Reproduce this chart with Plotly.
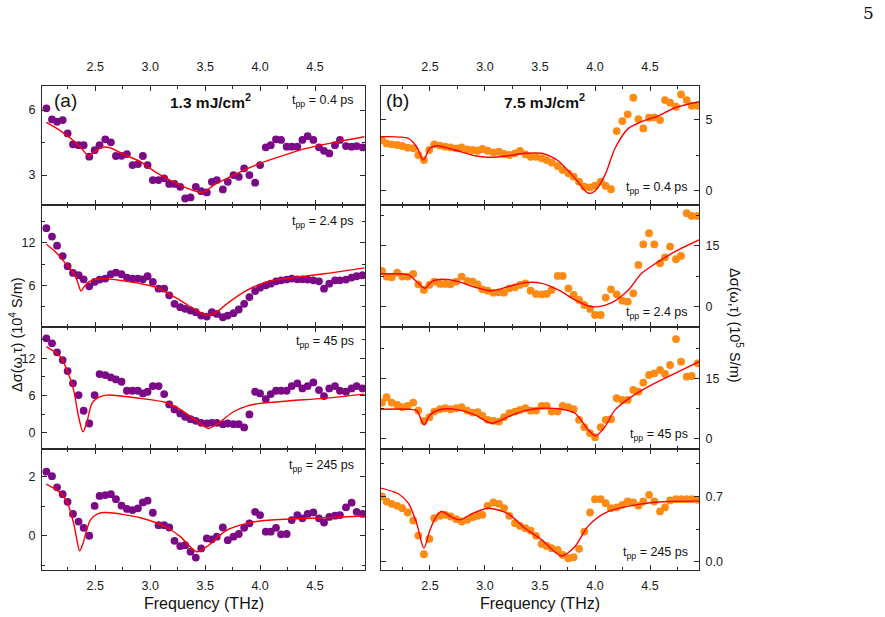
import plotly.graph_objects as go

# ---------------- data ----------------
freq_left = [2.055, 2.106, 2.152, 2.203, 2.248, 2.297, 2.348, 2.394, 2.445, 2.494,
             2.539, 2.591, 2.642, 2.688, 2.739, 2.788, 2.839, 2.888, 2.933, 2.976,
             3.024, 3.076, 3.127, 3.173, 3.221, 3.273, 3.318, 3.367, 3.415, 3.464,
             3.515, 3.561, 3.606, 3.661, 3.706, 3.758, 3.806, 3.855, 3.903, 3.955,
             4.000, 4.052, 4.097, 4.145, 4.191, 4.242, 4.288, 4.339, 4.385, 4.433,
             4.485, 4.536, 4.582, 4.630, 4.682, 4.727, 4.782, 4.833, 4.879, 4.933]
freq_right = [2.064, 2.106, 2.152, 2.203, 2.248, 2.297, 2.348, 2.394, 2.445, 2.494,
              2.539, 2.591, 2.639, 2.688, 2.739, 2.788, 2.839, 2.888, 2.933, 2.976,
              3.024, 3.076, 3.127, 3.173, 3.221, 3.273, 3.318, 3.367, 3.415, 3.464,
              3.515, 3.561, 3.606, 3.661, 3.706, 3.758, 3.806, 3.855, 3.903, 3.955,
              4.000, 4.052, 4.097, 4.145, 4.197, 4.248, 4.297, 4.348, 4.394, 4.439,
              4.491, 4.539, 4.591, 4.636, 4.682, 4.736, 4.782, 4.833, 4.879, 4.933]

# (a) 1.3 mJ/cm2, units 1e4 S/m
a_04 = [6.08, 5.57, 5.46, 5.54, 4.92, 4.42, 4.38, 4.38, 3.85, 4.15,
        4.38, 4.65, 4.51, 3.88, 3.89, 3.97, 3.46, 3.51, 3.88, 3.46,
        2.77, 2.77, 2.85, 2.59, 2.59, 2.46, 1.92, 1.97, 2.46, 2.26,
        2.20, 2.69, 2.77, 2.34, 2.69, 3.00, 2.92, 3.31, 3.00, 2.65,
        3.46, 4.28, 4.38, 4.65, 4.62, 4.31, 4.31, 4.31, 4.62, 4.80,
        4.62, 4.28, 4.12, 4.00, 4.38, 4.62, 4.34, 4.31, 4.34, 4.28]
a_24 = [14.04, 12.86, 11.58, 10.12, 8.70, 7.75, 7.42, 6.85, 5.86, 6.48,
        6.81, 6.95, 7.56, 7.80, 7.56, 7.09, 6.95, 6.95, 6.85, 7.28,
        6.48, 5.53, 5.53, 4.59, 3.40, 2.93, 2.69, 2.46, 2.22, 1.75,
        1.61, 2.22, 1.98, 1.51, 1.75, 2.08, 2.60, 3.40, 4.35, 5.20,
        5.67, 6.00, 6.24, 6.57, 6.71, 6.81, 6.95, 6.85, 6.85, 6.81,
        6.71, 6.57, 5.53, 6.24, 6.71, 6.71, 6.81, 7.09, 7.28, 7.42]
a_45 = [15.22, 14.42, 12.97, 11.73, 9.95, 7.97, 6.08, 3.56, 1.51, 6.08,
        9.47, 9.31, 8.93, 8.61, 8.23, 6.78, 6.78, 6.78, 6.35, 6.62,
        7.53, 7.53, 6.24, 4.58, 3.77, 3.13, 2.59, 2.21, 1.94, 1.62,
        1.51, 1.62, 1.62, 1.40, 1.51, 1.40, 1.40, 0.87, 2.97, 6.62,
        6.35, 5.44, 6.24, 6.78, 6.78, 6.78, 7.53, 7.97, 7.16, 7.53,
        8.13, 6.89, 5.92, 7.16, 7.53, 6.78, 6.62, 7.16, 7.53, 7.16]
a_245 = [2.17, 2.02, 1.64, 1.41, 1.15, 0.74, 0.48, 0.27, 0.00, 1.01,
         1.35, 1.38, 1.41, 1.24, 1.02, 0.91, 0.87, 0.93, 1.13, 1.19,
         0.78, 0.36, 0.36, 0.28, -0.17, -0.35, -0.32, -0.54, -0.74, -0.43,
         -0.09, -0.12, -0.03, 0.28, -0.15, -0.03, 0.06, 0.27, 0.42, 0.81,
         0.70, 0.14, 0.14, 0.27, 0.05, 0.06, 0.53, 0.70, 0.59, 0.74,
         0.79, 0.59, 0.45, 0.64, 0.68, 0.70, 0.96, 1.12, 0.81, 0.74]

# (b) 7.5 mJ/cm2, units 1e5 S/m
b_04 = [3.56, 3.32, 3.26, 3.21, 3.14, 3.02, 2.98, 2.51, 2.16, 2.86,
        3.26, 3.16, 3.09, 3.04, 2.98, 3.04, 2.91, 2.86, 2.81, 2.93,
        2.81, 2.70, 2.74, 2.58, 2.51, 2.63, 2.79, 2.56, 2.39, 2.39,
        2.28, 2.16, 1.98, 1.74, 1.46, 1.23, 1.00, 0.65, 0.30, 0.25,
        0.37, 0.65, 0.35, 0.12, 4.18, 4.88, 5.35, 6.51, 5.02, 4.37,
        5.12, 5.14, 4.95, 6.35, 6.16, 5.88, 6.74, 6.35, 5.95, 5.95]
b_24 = [8.83, 7.43, 7.27, 8.42, 7.43, 7.43, 8.09, 5.54, 4.14, 5.37,
        6.20, 5.62, 5.62, 5.54, 6.20, 7.43, 6.36, 6.20, 5.54, 4.30,
        3.97, 3.48, 3.56, 3.48, 4.55, 4.80, 5.37, 5.78, 3.97, 3.15,
        3.07, 3.15, 4.14, 7.60, 7.60, 4.55, 2.90, 1.67, 0.43, -0.55,
        -2.04, -2.04, 2.25, 4.30, 3.07, 1.50, 1.25, 3.32, 10.31, 15.41,
        18.13, 15.41, 10.72, 12.20, 14.84, 11.71, 12.53, 23.07, 22.41, 22.41]
b_45 = [8.99, 10.31, 8.99, 8.41, 7.84, 8.17, 8.99, 7.01, 4.46, 5.37,
        6.77, 7.34, 7.59, 7.34, 7.59, 7.84, 7.01, 6.52, 6.60, 5.78,
        4.71, 4.46, 4.30, 5.37, 6.35, 6.77, 7.18, 7.59, 7.01, 7.01,
        8.17, 8.17, 6.77, 6.77, 8.17, 7.84, 7.34, 4.71, 2.90, 1.42,
        0.43, 2.90, 4.71, 4.87, 10.06, 9.65, 9.65, 12.12, 11.70, 13.93,
        15.82, 16.23, 17.05, 16.07, 18.29, 24.71, 19.11, 15.41, 15.57, 18.70]
b_245 = [0.700, 0.646, 0.621, 0.600, 0.574, 0.528, 0.442, 0.280, 0.079, 0.244,
         0.467, 0.492, 0.503, 0.485, 0.456, 0.431, 0.449, 0.478, 0.492, 0.503,
         0.600, 0.635, 0.621, 0.574, 0.492, 0.413, 0.384, 0.359, 0.334, 0.277,
         0.190, 0.169, 0.144, 0.126, 0.072, 0.036, 0.047, 0.137, 0.323, 0.528,
         0.671, 0.671, 0.628, 0.574, 0.582, 0.610, 0.646, 0.635, 0.600, 0.646,
         0.718, 0.646, 0.539, 0.582, 0.657, 0.671, 0.671, 0.671, 0.671, 0.664]

# fit curves
fa_04_f = [2.055, 2.18, 2.30, 2.38, 2.44, 2.50, 2.56, 2.64, 2.76, 2.91, 3.06, 3.21, 3.36, 3.48,
           3.58, 3.70, 3.82, 4.00, 4.18, 4.42, 4.67, 4.95]
fa_04_v = [5.43, 5.05, 4.6, 4.2, 3.88, 4.1, 4.28, 4.25, 3.95, 3.62, 3.1, 2.69, 2.35, 2.20,
           2.54, 2.85, 3.15, 3.54, 3.85, 4.23, 4.5, 4.77]
fa_24_f = [2.055, 2.152, 2.242, 2.303, 2.339, 2.370, 2.400, 2.439, 2.500, 2.576, 2.758, 2.909,
           3.061, 3.273, 3.424, 3.515, 3.591, 3.697, 3.879, 4.061, 4.303, 4.606, 4.95]
fa_24_v = [11.77, 10.49, 8.84, 7.75, 6.48, 5.20, 5.86, 6.48, 6.81, 6.95, 6.62, 6.24,
           5.67, 3.88, 2.46, 1.84, 2.08, 3.40, 5.29, 6.48, 7.09, 7.66, 8.46]
fa_45_f = [2.055, 2.182, 2.242, 2.303, 2.348, 2.388, 2.424, 2.470, 2.530, 2.606, 2.909, 3.152,
           3.273, 3.455, 3.530, 3.636, 3.758, 3.879, 4.000, 4.273, 4.576, 4.95]
fa_45_v = [13.88, 12.27, 10.12, 6.89, 2.59, 0.17, 1.78, 4.74, 5.71, 6.08, 5.55, 4.85,
           3.77, 1.51, 0.71, 1.78, 3.40, 4.31, 4.74, 5.17, 5.55, 6.24]
fa_245_f = [2.055, 2.182, 2.242, 2.303, 2.333, 2.358, 2.388, 2.418, 2.455, 2.530, 2.606, 2.909,
            3.152, 3.273, 3.424, 3.515, 3.697, 3.879, 4.000, 4.273, 4.576, 4.95]
fa_245_v = [1.75, 1.46, 1.15, 0.42, -0.15, -0.51, -0.26, 0.14, 0.53, 0.76, 0.79, 0.61,
            0.28, -0.03, -0.54, -0.37, 0.19, 0.42, 0.50, 0.57, 0.61, 0.67]

fb_04_f = [2.055, 2.303, 2.379, 2.439, 2.500, 2.561, 2.758, 2.909, 3.061, 3.212, 3.364, 3.515,
           3.667, 3.818, 3.939, 4.000, 4.091, 4.182, 4.303, 4.424, 4.576, 4.727, 4.945]
fb_04_v = [3.79, 3.67, 3.09, 2.16, 2.98, 3.16, 2.79, 2.46, 2.35, 2.46, 2.63, 2.63,
           2.09, 0.88, -0.16, 0.00, 1.12, 2.98, 4.37, 4.84, 5.25, 5.81, 6.23]
fb_24_f = [2.055, 2.303, 2.379, 2.455, 2.515, 2.606, 2.758, 2.909, 3.061, 3.212, 3.364, 3.515,
           3.667, 3.818, 3.939, 4.030, 4.152, 4.303, 4.424, 4.576, 4.727, 4.945]
fb_24_v = [8.09, 7.84, 6.20, 4.55, 6.20, 6.77, 6.20, 4.80, 3.89, 4.96, 5.95, 5.78,
           4.14, 1.67, 0.19, 0.02, 1.01, 4.14, 8.25, 11.13, 13.60, 16.48]
fb_45_f = [2.055, 2.303, 2.379, 2.448, 2.500, 2.606, 2.758, 2.909, 3.061, 3.212, 3.364, 3.515,
           3.697, 3.818, 3.939, 4.006, 4.091, 4.182, 4.333, 4.485, 4.727, 4.945]
fb_45_v = [7.34, 7.34, 7.01, 3.47, 5.94, 7.34, 7.18, 5.94, 3.89, 5.53, 7.01, 7.59,
           7.34, 6.35, 2.24, 0.76, 3.06, 7.18, 10.47, 12.94, 16.23, 19.11]
fb_245_f = [2.055, 2.212, 2.303, 2.379, 2.445, 2.500, 2.561, 2.606, 2.697, 2.773, 2.879, 3.030,
            3.212, 3.364, 3.515, 3.697, 3.818, 3.939, 4.121, 4.424, 4.667, 4.945]
fb_245_v = [0.790, 0.729, 0.628, 0.413, 0.144, 0.341, 0.492, 0.539, 0.478, 0.449, 0.513, 0.574,
            0.513, 0.359, 0.234, 0.061, 0.162, 0.384, 0.539, 0.621, 0.646, 0.653]

delay_labels = ["0.4", "2.4", "45", "245"]
x_ticks = [2.5, 3.0, 3.5, 4.0, 4.5]

# ---------------- layout helpers ----------------
W, H = 885, 617
def px(x, y):
    return x / W, 1 - y / H

PURPLE = "#7B0A86"
ORANGE = "#FF8A14"
RED = "#FF0000"
FRAME = "#2a2a2a"
FONT = "Liberation Sans, Arial, sans-serif"

col_x = [(42, 365), (381, 699)]
row_y = [(86, 205), (205, 327), (327, 449), (449, 570)]
x_ranges = [[2.015, 4.955], [2.055, 4.945]]

panels = [
    # (col, row, freq, data, fit_f, fit_v, yrange, dtick, minor_dtick, fmt)
    (0, 0, freq_left, a_04, fa_04_f, fa_04_v, [1.62, 7.11], 3, 1.5, None),
    (0, 1, freq_left, a_24, fa_24_f, fa_24_v, [0.14, 17.3], 6, 3, None),
    (0, 2, freq_left, a_45, fa_45_f, fa_45_v, [-2.6, 17.05], 6, 3, None),
    (0, 3, freq_left, a_245, fa_245_f, fa_245_v, [-1.16, 2.94], 2, 1, None),
    (1, 0, freq_right, b_04, fb_04_f, fb_04_v, [-0.98, 7.33], 5, 2.5, None),
    (1, 1, freq_right, b_24, fb_24_f, fb_24_v, [-5.0, 25.1], 15, 7.5, None),
    (1, 2, freq_right, b_45, fb_45_f, fb_45_v, [-2.5, 27.7], 15, 7.5, None),
    (1, 3, freq_right, b_245, fb_245_f, fb_245_v, [-0.09, 1.21], 0.7, 0.35, ".1f"),
]

fig = go.Figure()
layout = dict(
    width=W, height=H, margin=dict(l=0, r=0, t=0, b=0),
    paper_bgcolor="white", plot_bgcolor="white", showlegend=False,
    font=dict(family=FONT, size=12, color="#1a1a1a"),
)

for k, (c, r, fx, fy, ff, fv, yr, dt, mdt, fmt) in enumerate(panels):
    n = k + 1
    xa = "x" if n == 1 else f"x{n}"
    ya = "y" if n == 1 else f"y{n}"
    color = PURPLE if c == 0 else ORANGE
    fig.add_trace(go.Scatter(x=fx, y=fy, mode="markers", xaxis=xa, yaxis=ya,
                             marker=dict(color=color, size=7.8, line=dict(width=0))))
    fig.add_trace(go.Scatter(x=ff, y=fv, mode="lines", xaxis=xa, yaxis=ya,
                             line=dict(color=RED, width=1.4, shape="spline", smoothing=0.8)))
    x0, x1 = col_x[c]
    ytop, ybot = row_y[r]
    side_x = "top" if r == 0 else "bottom"
    show_x = r in (0, 3)
    xaxis = dict(domain=[x0 / W, x1 / W], range=x_ranges[c], anchor=ya,
                 side=side_x, showticklabels=show_x, tickmode="array", tickvals=x_ticks,
                 ticktext=[f"{v:.1f}" for v in x_ticks],
                 ticks="inside", ticklen=5, tickwidth=1, tickcolor=FRAME,
                 minor=dict(dtick=0.25, tick0=2.0, ticks="inside", ticklen=3, tickcolor=FRAME),
                 showline=True, linecolor=FRAME, linewidth=1, mirror="ticks",
                 showgrid=False, zeroline=False, tickfont=dict(size=12.5),
                 ticklabelstandoff=4 if r == 3 else 9)
    yaxis = dict(domain=[1 - ybot / H, 1 - ytop / H], range=yr, anchor=xa,
                 side="left" if c == 0 else "right", dtick=dt, tick0=0,
                 ticks="inside", ticklen=5, tickwidth=1, tickcolor=FRAME,
                 minor=dict(dtick=mdt, tick0=0, ticks="inside", ticklen=3, tickcolor=FRAME),
                 showline=True, linecolor=FRAME, linewidth=1, mirror="ticks",
                 showgrid=False, zeroline=False, tickfont=dict(size=12.5),
                 ticklabelstandoff=3)
    if fmt:
        yaxis["tickformat"] = fmt
    layout["xaxis" if n == 1 else f"xaxis{n}"] = xaxis
    layout["yaxis" if n == 1 else f"yaxis{n}"] = yaxis

fig.update_layout(**layout)

def ann(text, x, y, size=12, xanchor="center", angle=0, family=FONT):
    ax, ay = px(x, y)
    fig.add_annotation(text=text, x=ax, y=ay, xref="paper", yref="paper",
                       xanchor=xanchor, yanchor="middle", showarrow=False,
                       textangle=angle, font=dict(size=size, family=family, color="#111"))

ann("(a)", 65, 101, size=19)
ann("(b)", 397, 101, size=19)
ann("<b>1.3 mJ/cm<sup>2</sup></b>", 210, 101, size=15.5)
ann("<b>7.5 mJ/cm<sup>2</sup></b>", 544, 101, size=15.5)

left_tpp_y = [101, 222, 342, 466]
right_tpp_y = [188, 313, 435, 553]
for i, d in enumerate(delay_labels):
    ann(f"t<sub>pp</sub> = {d} ps", 356, left_tpp_y[i], size=12.5, xanchor="right")
    ann(f"t<sub>pp</sub> = {d} ps", 690, right_tpp_y[i], size=12.5, xanchor="right")

ann("Frequency (THz)", 204, 603, size=16)
ann("Frequency (THz)", 540, 603, size=16)
ann("Δσ(ω,τ) (10<sup>4</sup> S/m)", 16, 335, size=14.5, angle=-90)
ann("Δσ(ω,τ) (10<sup>5</sup> S/m)", 736, 325, size=14.5, angle=90)
ann("5", 868, 13, size=17, family="DejaVu Serif, Liberation Serif, serif")

fig.write_html("out.html")
